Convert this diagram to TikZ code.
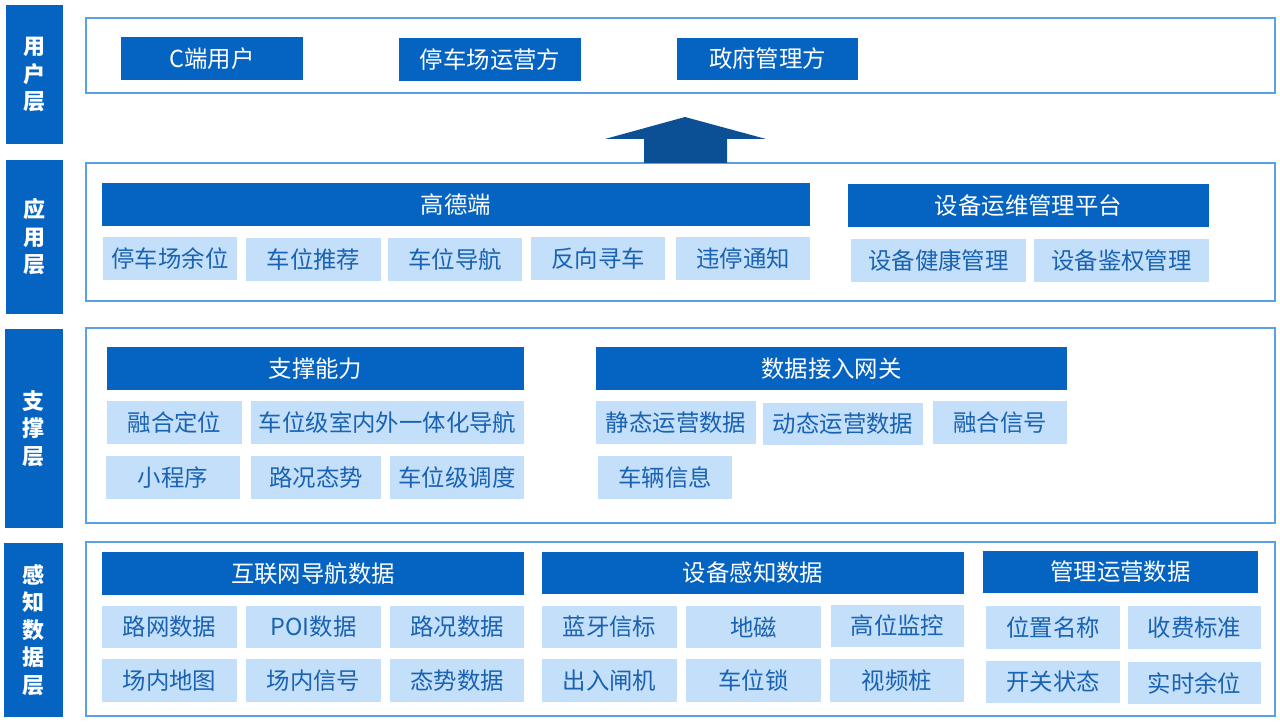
\documentclass[tikz,border=0pt]{standalone}
\usepackage{fontspec}
\setmainfont{Noto Sans CJK SC}
\definecolor{dblue}{HTML}{0563C1}
\definecolor{lblue}{HTML}{C3DFF9}
\definecolor{ltext}{HTML}{1A62B2}
\definecolor{frameblue}{HTML}{5AA0E6}
\definecolor{arrowblue}{HTML}{0B4F94}
\tikzset{
  base/.style={inner sep=0pt, outer sep=0pt, anchor=center, font=\fontsize{23.4}{27}\selectfont},
  darkbox/.style={base, fill=dblue, text=white},
  lightbox/.style={base, fill=lblue, text=ltext},
  sidebar/.style={inner sep=0pt, outer sep=0pt, fill=dblue, text=white, align=center, font=\bfseries\fontsize{22}{27.5}\selectfont},
  layerframe/.style={inner sep=0pt, outer sep=0pt, draw=frameblue, line width=1.8pt},
}
\newcommand{\bx}[7]{\node[#2, minimum width={(#5-#3)*1pt}, minimum height={(#6-#4)*1pt}] (#1) at ({(#3+#5)/2},{(#4+#6)/2}) {#7};}
\begin{document}
\begin{tikzpicture}[x=1pt,y=-1pt]
\useasboundingbox[fill=white] (0,0) rectangle (1280,722);
% side bars
\bx{sU}{sidebar}{6}{5}{63}{144}{用\\户\\层}
\bx{sA}{sidebar}{6}{160}{63}{314}{应\\用\\层}
\bx{sS}{sidebar}{5}{329}{63}{528}{支\\撑\\层}
\bx{sP}{sidebar}{4}{543}{63}{717}{感\\知\\数\\据\\层}
% frames
\bx{fU}{layerframe}{86}{18}{1275}{93}{}
\bx{fA}{layerframe}{86}{163}{1275}{301}{}
\bx{fS}{layerframe}{86}{328}{1275}{523}{}
\bx{fP}{layerframe}{86}{542}{1275}{716}{}
% user layer
\bx{u1}{darkbox}{121}{37}{303}{80}{C端用户}
\bx{u2}{darkbox}{399}{38}{581}{81}{停车场运营方}
\bx{u3}{darkbox}{677}{38}{858}{80}{政府管理方}
% up arrow
\fill[arrowblue] (644,163) -- (644,139) -- (605,139) -- (685,117) -- (766,139) -- (727,139) -- (727,163) -- cycle;
% application layer
\bx{a0}{darkbox}{102}{183}{810}{226}{高德端}
\bx{a1}{lightbox}{103}{237}{237}{280}{停车场余位}
\bx{a2}{lightbox}{246}{238}{381}{281}{车位推荐}
\bx{a3}{lightbox}{388}{238}{522}{281}{车位导航}
\bx{a4}{lightbox}{531}{237}{665}{280}{反向寻车}
\bx{a5}{lightbox}{676}{237}{810}{280}{违停通知}
\bx{b0}{darkbox}{848}{184}{1209}{227}{设备运维管理平台}
\bx{b1}{lightbox}{851}{239}{1026}{282}{设备健康管理}
\bx{b2}{lightbox}{1034}{239}{1209}{282}{设备鉴权管理}
% support layer
\bx{c0}{darkbox}{107}{347}{524}{390}{支撑能力}
\bx{c1}{lightbox}{107}{401}{242}{444}{融合定位}
\bx{c2}{lightbox}{251}{401}{524}{444}{车位级室内外一体化导航}
\bx{c3}{lightbox}{106}{456}{240}{499}{小程序}
\bx{c4}{lightbox}{251}{456}{381}{499}{路况态势}
\bx{c5}{lightbox}{390}{456}{524}{499}{车位级调度}
\bx{d0}{darkbox}{596}{347}{1067}{390}{数据接入网关}
\bx{d1}{lightbox}{596}{401}{756}{444}{静态运营数据}
\bx{d2}{lightbox}{763}{403}{923}{445}{动态运营数据}
\bx{d3}{lightbox}{933}{401}{1067}{444}{融合信号}
\bx{d4}{lightbox}{598}{456}{732}{499}{车辆信息}
% perception layer
\bx{e0}{darkbox}{102}{552}{524}{595}{互联网导航数据}
\bx{e1}{lightbox}{102}{606}{237}{648}{路网数据}
\bx{e2}{lightbox}{246}{606}{381}{648}{POI数据}
\bx{e3}{lightbox}{390}{606}{524}{648}{路况数据}
\bx{e4}{lightbox}{102}{659}{237}{702}{场内地图}
\bx{e5}{lightbox}{246}{659}{381}{702}{场内信号}
\bx{e6}{lightbox}{390}{659}{524}{702}{态势数据}
\bx{g0}{darkbox}{542}{552}{964}{594}{设备感知数据}
\bx{g1}{lightbox}{542}{606}{677}{648}{蓝牙信标}
\bx{g2}{lightbox}{686}{606}{821}{648}{地磁}
\bx{g3}{lightbox}{831}{605}{964}{647}{高位监控}
\bx{g4}{lightbox}{542}{659}{677}{702}{出入闸机}
\bx{g5}{lightbox}{686}{659}{821}{702}{车位锁}
\bx{g6}{lightbox}{830}{659}{964}{702}{视频桩}
\bx{h0}{darkbox}{983}{551}{1258}{593}{管理运营数据}
\bx{h1}{lightbox}{986}{606}{1120}{649}{位置名称}
\bx{h2}{lightbox}{1128}{606}{1261}{649}{收费标准}
\bx{h3}{lightbox}{986}{661}{1120}{703}{开关状态}
\bx{h4}{lightbox}{1128}{662}{1261}{704}{实时余位}
\end{tikzpicture}
\end{document}
